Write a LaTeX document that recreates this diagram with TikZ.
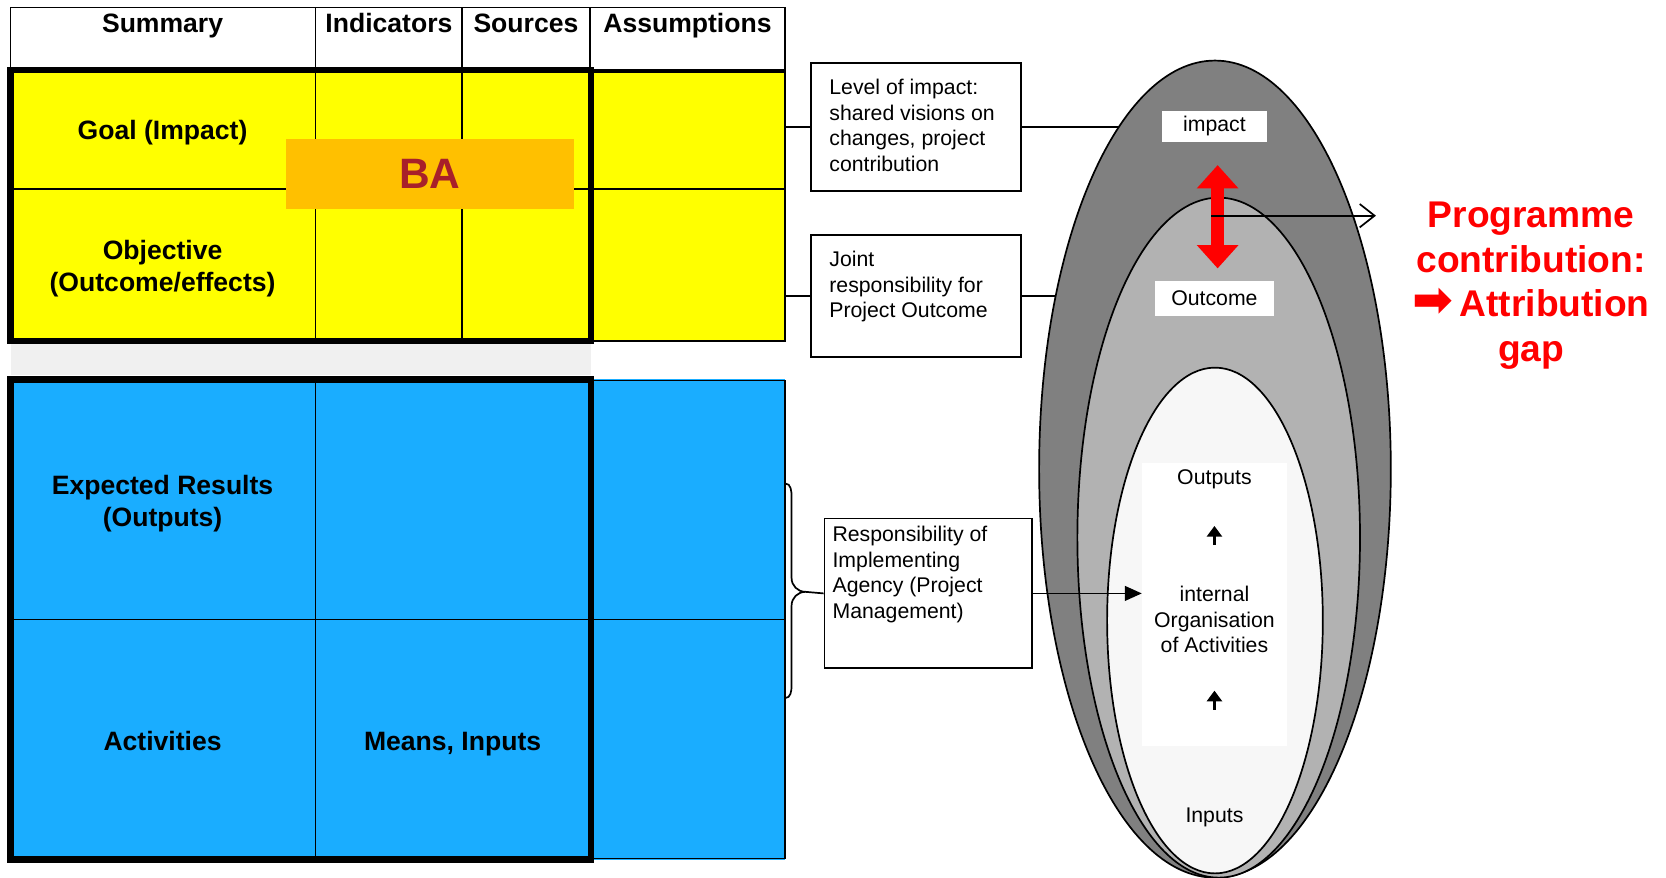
\documentclass[tikz,border=0pt]{standalone}
\usepackage{fontspec}
\setmainfont{Liberation Sans}
\newfontfamily\djv{DejaVu Sans}
\usetikzlibrary{shapes.geometric,arrows.meta}
\pgfdeclarelayer{bg}
\pgfsetlayers{bg,main}
\definecolor{lfyellow}{HTML}{FFFF00}
\definecolor{lfblue}{HTML}{1AADFF}
\definecolor{baorange}{HTML}{FFC000}
\definecolor{badred}{HTML}{A8202A}
\definecolor{gapgray}{HTML}{F0F0F0}
\definecolor{ellA}{HTML}{808080}
\definecolor{ellB}{HTML}{B2B2B2}
\definecolor{ellC}{HTML}{F7F7F7}
\begin{document}
\begin{tikzpicture}[x=0.5pt,y=-0.5pt,
  tl/.style={line width=0.8pt},
  tf/.style={line width=3pt},
  celltext/.style={font=\fontsize{12.5}{15}\selectfont\bfseries, align=center, inner sep=0pt},
  notebox/.style={draw, line width=0.8pt, inner sep=0pt},
  notetext/.style={font=\fontsize{10}{12}\selectfont, align=left, anchor=north west, inner sep=0pt},
  ell/.style={ellipse, draw, line width=0.8pt, inner sep=0pt},
  lbl/.style={fill=white, inner sep=0pt, font=\fontsize{10}{12}\selectfont},
  intext/.style={font=\fontsize{10}{12}\selectfont, align=center, inner sep=0pt},
  uparr/.style={line width=1.7pt, -{Triangle[length=5pt,width=7pt]}},
  conn/.style={line width=0.8pt}
]
\useasboundingbox (0,0) rectangle (1568,826);
\coordinate (tblR) at (739,0);

% ---------- table fills ----------
\fill[lfyellow] (10,66) rectangle (739,321);
\fill[gapgray] (10,324) rectangle (556,353);
\fill[lfblue] (10,357) rectangle (739,809);

% ---------- thin grid ----------
\draw[tl] (10,7) rectangle (739,66);
\draw[tl] (297,7) -- (297,321);
\draw[tl] (435,7) -- (435,321);
\draw[tl] (555,7) -- (555,66);
\draw[tl] (556,68) rectangle (739,321);
\draw[tl] (10,178) -- (739,178);
\draw[tl] (556,358) rectangle (739,808);
\draw[tl] (297,357) -- (297,809);
\draw[tl] (10,583) -- (739,583);

% ---------- thick frames ----------
\draw[tf] (10,66) rectangle (556,321);
\draw[tf] (10,357) rectangle (556,809);

% ---------- table texts ----------
\node[celltext, anchor=base] (hsum) at (153,31) {Summary};
\node[celltext, anchor=base] (hind) at (366,31) {Indicators};
\node[celltext, anchor=base] (hsrc) at (495,31) {Sources};
\node[celltext, anchor=base] (hass) at (647,31) {Assumptions};
\node[celltext] (goal) at (153,125) {Goal (Impact)};
\node[celltext] (obj) at (153,253) {Objective\\(Outcome/effects)};
\node[celltext] (res) at (153,474) {Expected Results\\(Outputs)};
\node[celltext, anchor=base] (act) at (153,706.5) {Activities};
\node[celltext, anchor=base] (means) at (426,706.5) {Means, Inputs};

% ---------- BA ----------
\node[fill=baorange, minimum width=135.5pt, minimum height=33pt, inner sep=0pt,
      text=badred, font=\fontsize{20}{24}\selectfont\bfseries] (ba) at (404.5,164) {BA};

% ---------- note boxes ----------
\node[notebox, minimum width=99pt, minimum height=60.5pt] (box1) at (862,119.5) {};
\node[notetext] (box1t) at ([xshift=9pt,yshift=-8pt]box1.north west)
  {Level of impact:\\shared visions on\\changes, project\\contribution};
\node[notebox, minimum width=99pt, minimum height=57.5pt] (box2) at (862,278.5) {};
\node[notetext] (box2t) at ([xshift=9pt,yshift=-8pt]box2.north west)
  {Joint\\responsibility for\\Project Outcome};
\node[notebox, minimum width=97.5pt, minimum height=70.5pt] (box3) at (873.5,558.5) {};
\node[notetext] (box3t) at ([xshift=4pt,yshift=-3.8pt]box3.north west)
  {Responsibility of\\Implementing\\Agency (Project\\Management)};

\draw[conn] (box1.west -| tblR) -- (box1.west);
\draw[conn] (box2.west -| tblR) -- (box2.west);

% brace
\coordinate (btip) at (758,557);
\draw[conn] (739,455) to[out=0,in=90] (745,468) -- (745,544) to[out=-90,in=180] (btip) -- (box3.west);
\draw[conn] (btip) to[out=180,in=90] (745,570) -- (745,645) to[out=-90,in=0] (739,657);

% ---------- ellipses ----------
\node[ell, fill=ellA, minimum width=165.5pt, minimum height=384.5pt] (outer) at (1143.5,441.5) {};
\node[ell, fill=ellB, minimum width=133pt, minimum height=320pt] (middle) at (1147,506) {};
\node[ell, fill=ellC, minimum width=101.5pt, minimum height=238pt] (inner) at (1143.5,584) {};

\begin{pgfonlayer}{bg}
\draw[conn] (box1.east) -- (box1.east -| outer.center);
\draw[conn] (box2.east) -- (box2.east -| outer.center);
\end{pgfonlayer}

\node[fill=white, inner sep=0pt, minimum width=68pt, minimum height=133pt] (inrect) at (1143,569) {};
\node[intext] (outs) at (1143,451) {Outputs};
\node[intext] (org) at (1143,583) {internal\\Organisation\\of Activities};
\node[intext] (ins) at (1143,769) {Inputs};
\coordinate (ua1b) at (1143,513);
\coordinate (ua1t) at (1143,495);
\coordinate (ua2b) at (1143,668);
\coordinate (ua2t) at (1143,650);
\draw[uparr] (ua1b) -- (ua1t);
\draw[uparr] (ua2b) -- (ua2t);

\node[lbl, minimum width=49pt, minimum height=15pt] (imp) at (1143,119) {impact};
\node[lbl, minimum width=56pt, minimum height=16.5pt] (outc) at (1143,280.5) {Outcome};

% red double arrow
\draw[red, line width=6pt, {Triangle[width=19pt,length=11pt]}-{Triangle[width=19pt,length=11pt]},
      shorten <=10.5pt, shorten >=5.5pt] ([xshift=1.5pt]imp.south) -- ([xshift=1.5pt]outc.north);

% black thin arrow
\coordinate (gs) at (1140,203);
\coordinate (ge) at (1295,203);
\draw[conn, -{Straight Barb[length=7pt,width=11pt,line width=0.8pt]}] (gs) -- (ge);

% arrow to inner organisation
\draw[conn, -{Triangle[length=8pt,width=7pt]}] (box3.east) -- (box3.east -| inrect.west);

% red text
\node[text=red, align=center, inner sep=0pt, font=\fontsize{17.5}{21}\selectfont\bfseries] (prog) at (1441,269)
  {Programme\\contribution:\\{\djv\bfseries\fontsize{23}{21}\selectfont ➡}\,Attribution\\gap};
\end{tikzpicture}
\end{document}
